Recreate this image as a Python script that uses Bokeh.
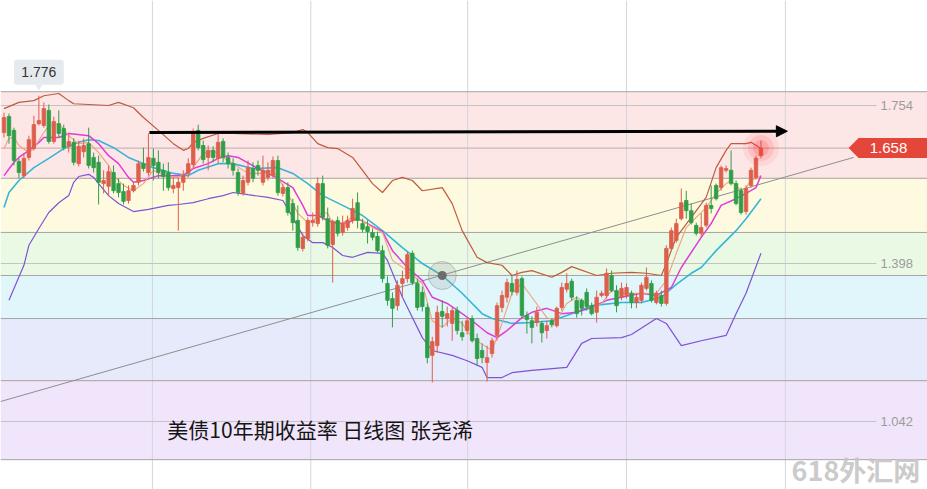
import numpy as np
from bokeh.plotting import figure
from bokeh.models import Range1d, BoxAnnotation, Span, Arrow, NormalHead, ColumnDataSource
from bokeh.core.properties import value
from bokeh.embed import file_html
from bokeh.resources import INLINE

# ---------------- data (US 10Y yield, daily candles) ----------------
opens = [1.693, 1.729, 1.698, 1.628, 1.596, 1.637, 1.657, 1.713, 1.709, 1.743,
         1.673, 1.713, 1.702, 1.662, 1.671, 1.623, 1.650, 1.668, 1.637, 1.626,
         1.578, 1.572, 1.603, 1.578, 1.560, 1.540, 1.562, 1.581, 1.623, 1.603,
         1.635, 1.626, 1.608, 1.603, 1.567, 1.569, 1.581, 1.601, 1.621, 1.698,
         1.664, 1.637, 1.653, 1.635, 1.673, 1.637, 1.623, 1.603, 1.556, 1.581,
         1.612, 1.619, 1.581, 1.592, 1.596, 1.630, 1.556, 1.569, 1.533, 1.495,
         1.432, 1.454, 1.490, 1.488, 1.578, 1.499, 1.441, 1.495, 1.468, 1.479,
         1.495, 1.535, 1.488, 1.481, 1.468, 1.459, 1.427, 1.353, 1.319, 1.303,
         1.353, 1.364, 1.421, 1.353, 1.333, 1.299, 1.191, 1.213, 1.290, 1.274,
         1.263, 1.292, 1.242, 1.247, 1.274, 1.229, 1.202, 1.175, 1.195, 1.236,
         1.299, 1.322, 1.353, 1.333, 1.364, 1.281, 1.269, 1.265, 1.263, 1.247,
         1.269, 1.258, 1.299, 1.340, 1.358, 1.315, 1.315, 1.333, 1.303, 1.288,
         1.326, 1.326, 1.371, 1.337, 1.322, 1.326, 1.331, 1.310, 1.315, 1.342,
         1.353, 1.310, 1.326, 1.308, 1.432, 1.450, 1.499, 1.540, 1.517, 1.484,
         1.466, 1.484, 1.529, 1.574, 1.569, 1.608, 1.608, 1.578, 1.562, 1.515,
         1.574, 1.592, 1.641]
highs = [1.738, 1.736, 1.704, 1.635, 1.646, 1.686, 1.731, 1.776, 1.761, 1.756,
         1.729, 1.743, 1.711, 1.689, 1.680, 1.675, 1.680, 1.704, 1.648, 1.641,
         1.608, 1.619, 1.619, 1.590, 1.578, 1.574, 1.581, 1.630, 1.659, 1.691,
         1.657, 1.653, 1.623, 1.626, 1.592, 1.592, 1.608, 1.635, 1.702, 1.711,
         1.675, 1.664, 1.662, 1.693, 1.680, 1.648, 1.635, 1.612, 1.596, 1.630,
         1.626, 1.630, 1.641, 1.626, 1.639, 1.641, 1.578, 1.581, 1.544, 1.529,
         1.466, 1.502, 1.513, 1.592, 1.596, 1.524, 1.497, 1.504, 1.506, 1.506,
         1.544, 1.558, 1.499, 1.495, 1.477, 1.470, 1.439, 1.369, 1.333, 1.360,
         1.382, 1.425, 1.427, 1.364, 1.346, 1.308, 1.233, 1.303, 1.315, 1.301,
         1.299, 1.301, 1.269, 1.276, 1.281, 1.240, 1.218, 1.213, 1.231, 1.310,
         1.337, 1.364, 1.371, 1.382, 1.369, 1.290, 1.279, 1.301, 1.269, 1.269,
         1.274, 1.301, 1.355, 1.376, 1.364, 1.324, 1.319, 1.342, 1.310, 1.337,
         1.337, 1.387, 1.382, 1.349, 1.355, 1.353, 1.337, 1.331, 1.355, 1.389,
         1.360, 1.337, 1.337, 1.439, 1.479, 1.499, 1.567, 1.562, 1.533, 1.490,
         1.511, 1.535, 1.574, 1.578, 1.619, 1.619, 1.653, 1.585, 1.569, 1.574,
         1.614, 1.641, 1.675]
lows = [1.682, 1.668, 1.619, 1.590, 1.590, 1.630, 1.653, 1.709, 1.704, 1.668,
        1.668, 1.682, 1.653, 1.648, 1.619, 1.617, 1.637, 1.612, 1.603, 1.531,
        1.556, 1.551, 1.556, 1.547, 1.531, 1.533, 1.558, 1.574, 1.605, 1.596,
        1.585, 1.590, 1.562, 1.562, 1.556, 1.472, 1.562, 1.592, 1.614, 1.653,
        1.623, 1.608, 1.626, 1.623, 1.626, 1.612, 1.596, 1.551, 1.551, 1.574,
        1.581, 1.596, 1.574, 1.585, 1.590, 1.551, 1.549, 1.506, 1.472, 1.427,
        1.425, 1.448, 1.481, 1.481, 1.495, 1.432, 1.355, 1.459, 1.461, 1.472,
        1.488, 1.477, 1.468, 1.443, 1.450, 1.423, 1.355, 1.303, 1.254, 1.292,
        1.322, 1.355, 1.349, 1.292, 1.290, 1.173, 1.130, 1.197, 1.254, 1.256,
        1.224, 1.238, 1.224, 1.238, 1.220, 1.168, 1.173, 1.132, 1.186, 1.224,
        1.288, 1.310, 1.326, 1.326, 1.274, 1.240, 1.218, 1.256, 1.220, 1.229,
        1.254, 1.254, 1.292, 1.333, 1.315, 1.276, 1.281, 1.292, 1.281, 1.265,
        1.322, 1.319, 1.333, 1.288, 1.315, 1.319, 1.297, 1.297, 1.308, 1.337,
        1.310, 1.306, 1.301, 1.303, 1.427, 1.445, 1.495, 1.499, 1.486, 1.461,
        1.457, 1.479, 1.511, 1.540, 1.562, 1.603, 1.574, 1.529, 1.508, 1.508,
        1.569, 1.587, 1.635]
closes = [1.727, 1.686, 1.630, 1.603, 1.635, 1.677, 1.711, 1.720, 1.747, 1.673,
          1.718, 1.691, 1.659, 1.673, 1.626, 1.662, 1.664, 1.619, 1.614, 1.581,
          1.585, 1.605, 1.562, 1.558, 1.538, 1.562, 1.574, 1.623, 1.612, 1.637,
          1.619, 1.603, 1.594, 1.569, 1.574, 1.581, 1.596, 1.623, 1.693, 1.659,
          1.632, 1.653, 1.637, 1.671, 1.637, 1.623, 1.608, 1.558, 1.585, 1.614,
          1.590, 1.608, 1.608, 1.608, 1.630, 1.558, 1.569, 1.513, 1.490, 1.434,
          1.457, 1.495, 1.495, 1.578, 1.502, 1.439, 1.493, 1.466, 1.488, 1.495,
          1.522, 1.495, 1.475, 1.470, 1.457, 1.427, 1.364, 1.315, 1.297, 1.349,
          1.364, 1.418, 1.355, 1.299, 1.301, 1.186, 1.222, 1.288, 1.279, 1.285,
          1.292, 1.247, 1.233, 1.269, 1.224, 1.184, 1.186, 1.186, 1.224, 1.303,
          1.326, 1.355, 1.335, 1.362, 1.281, 1.272, 1.254, 1.288, 1.242, 1.258,
          1.260, 1.297, 1.344, 1.353, 1.322, 1.285, 1.297, 1.301, 1.285, 1.322,
          1.331, 1.376, 1.337, 1.303, 1.342, 1.344, 1.310, 1.322, 1.349, 1.367,
          1.315, 1.331, 1.308, 1.432, 1.472, 1.488, 1.535, 1.517, 1.490, 1.466,
          1.479, 1.529, 1.522, 1.544, 1.614, 1.612, 1.578, 1.533, 1.513, 1.567,
          1.608, 1.635, 1.658]

# Bollinger upper band (sampled at candle index)
boll_up_idx = [0, 3, 6, 8, 11, 13, 14, 21, 23, 26, 28, 31, 34, 36, 37, 38, 40, 43, 46, 53,
               58, 60, 61, 63, 65, 67, 70, 72, 74, 76, 78, 80, 82, 84, 88, 90, 92, 95, 97, 100,
               102, 104, 106, 110, 112, 114, 119, 122, 126, 129, 132, 133, 135, 138, 141, 143,
               145, 146, 149, 150, 152]
boll_up_val = [1.747, 1.761, 1.765, 1.776, 1.781, 1.765, 1.758, 1.754, 1.761, 1.749,
               1.727, 1.698, 1.668, 1.653, 1.657, 1.671, 1.680, 1.691, 1.691, 1.689,
               1.693, 1.700, 1.693, 1.668, 1.659, 1.657, 1.637, 1.608, 1.578, 1.558,
               1.585, 1.592, 1.585, 1.562, 1.569, 1.533, 1.472, 1.412, 1.400, 1.394,
               1.371, 1.378, 1.382, 1.367, 1.378, 1.391, 1.371, 1.376, 1.378, 1.376,
               1.371, 1.398, 1.457, 1.502, 1.547, 1.614, 1.653, 1.668, 1.668, 1.671, 1.657]
# Bollinger lower band
boll_dn_idx = [1, 4, 5, 7, 9, 11, 13, 14, 15, 17, 18, 19, 21, 23, 26, 29, 33, 35, 38, 41,
               44, 46, 49, 53, 56, 58, 60, 62, 64, 66, 68, 70, 73, 76, 77, 80, 84, 86, 90, 93,
               96, 97, 100, 102, 106, 113, 116, 118, 124, 126, 131, 133, 136, 140, 145, 147,
               149, 152]
boll_dn_val = [1.315, 1.394, 1.439, 1.477, 1.513, 1.535, 1.551, 1.581, 1.594, 1.599,
               1.592, 1.578, 1.551, 1.533, 1.515, 1.520, 1.529, 1.531, 1.535, 1.544,
               1.551, 1.558, 1.553, 1.547, 1.540, 1.502, 1.461, 1.445, 1.445, 1.434,
               1.416, 1.412, 1.423, 1.421, 1.405, 1.322, 1.231, 1.202, 1.191, 1.179,
               1.164, 1.141, 1.141, 1.152, 1.157, 1.164, 1.218, 1.229, 1.231, 1.238,
               1.274, 1.263, 1.213, 1.224, 1.236, 1.285, 1.331, 1.421]
# 20-day moving average (Bollinger middle)
ma20_idx = [0, 1, 3, 6, 9, 12, 15, 17, 19, 22, 25, 30, 34, 37, 39, 43, 46, 50, 55, 58,
            61, 64, 68, 72, 76, 80, 84, 88, 92, 96, 98, 102, 106, 110, 114, 118, 124, 128,
            132, 135, 138, 140, 143, 147, 149, 152]
ma20_val = [1.524, 1.558, 1.585, 1.614, 1.635, 1.657, 1.671, 1.677, 1.675, 1.659,
            1.637, 1.614, 1.601, 1.596, 1.608, 1.623, 1.623, 1.612, 1.614, 1.601,
            1.578, 1.551, 1.529, 1.506, 1.472, 1.434, 1.398, 1.371, 1.331, 1.285,
            1.274, 1.263, 1.265, 1.269, 1.285, 1.303, 1.310, 1.310, 1.322, 1.351,
            1.376, 1.389, 1.427, 1.472, 1.499, 1.544]
# 10-day moving average
ma10_idx = [0, 2, 3, 5, 7, 8, 11, 13, 17, 19, 21, 23, 25, 26, 28, 31, 36, 38, 41, 43,
            45, 47, 51, 54, 58, 60, 61, 63, 65, 67, 69, 71, 73, 76, 78, 81, 84, 86, 89, 92,
            94, 97, 99, 101, 104, 106, 109, 112, 115, 118, 121, 124, 128, 131, 134, 136,
            140, 142, 144, 147, 149, 151, 152]
ma10_val = [1.596, 1.626, 1.637, 1.653, 1.671, 1.682, 1.682, 1.691, 1.686, 1.668,
            1.641, 1.623, 1.592, 1.581, 1.585, 1.596, 1.596, 1.612, 1.623, 1.635,
            1.641, 1.637, 1.612, 1.596, 1.569, 1.529, 1.506, 1.506, 1.495, 1.488,
            1.490, 1.499, 1.488, 1.470, 1.427, 1.389, 1.360, 1.322, 1.308, 1.285,
            1.269, 1.242, 1.231, 1.247, 1.276, 1.288, 1.297, 1.285, 1.288, 1.299,
            1.315, 1.322, 1.331, 1.326, 1.344, 1.389, 1.457, 1.488, 1.529, 1.544,
            1.556, 1.569, 1.596]
# 5-day moving average
ma5_idx = [0, 1, 2, 3, 5, 6, 8, 9, 11, 13, 15, 17, 19, 21, 22, 24, 26, 28, 30, 33,
           35, 38, 40, 42, 44, 46, 49, 52, 54, 57, 59, 61, 62, 64, 65, 66, 68, 70, 72, 74,
           76, 78, 81, 84, 86, 88, 90, 92, 94, 97, 98, 100, 102, 104, 106, 109, 111, 113,
           115, 118, 120, 122, 124, 128, 131, 133, 135, 137, 139, 141, 143, 145, 146, 148,
           149, 150, 152]
ma5_val = [1.657, 1.680, 1.682, 1.664, 1.648, 1.657, 1.693, 1.709, 1.713, 1.686,
           1.668, 1.671, 1.648, 1.619, 1.596, 1.574, 1.562, 1.578, 1.608, 1.592,
           1.592, 1.614, 1.646, 1.653, 1.637, 1.623, 1.601, 1.601, 1.608, 1.556,
           1.511, 1.490, 1.495, 1.513, 1.511, 1.488, 1.490, 1.502, 1.495, 1.479,
           1.468, 1.405, 1.382, 1.353, 1.269, 1.254, 1.276, 1.263, 1.231, 1.209,
           1.202, 1.263, 1.331, 1.353, 1.322, 1.276, 1.269, 1.308, 1.322, 1.299,
           1.308, 1.337, 1.331, 1.331, 1.331, 1.360, 1.421, 1.479, 1.502, 1.524,
           1.556, 1.578, 1.585, 1.562, 1.569, 1.585, 1.596]

# Fibonacci retracement levels and zone colours
fib_levels = [1.785, 1.590, 1.468, 1.371, 1.274, 1.134, 0.956]
fib_colors = ["#fde6e6", "#fefae0", "#eaf9e4", "#e1f6fb", "#e6eafb", "#f1e5fb"]
tick_vals = [1.754, 1.398, 1.042]
tick_labels = ["1.754", "1.398", "1.042"]
last_price = 1.658
date_lines = [29.8, 61.6, 93.1, 125.0, 156.9]
trend_x = [-0.7, 170.6]
trend_y = [1.087, 1.637]
resist_x = [29.2, 157.3]
resist_y = [1.693, 1.696]
title = "美债10年期收益率 日线图 张尧浠"
brand = "618外汇网"

# ---------------- figure ----------------
PX = 0.0022532   # yield per screen pixel
X0 = -0.703
p = figure(width=927, height=489, x_range=Range1d(X0, 185.44),
           y_range=Range1d(0.8888, 1.9906), output_backend="svg",
           toolbar_location=None, min_border=0, x_axis_location=None,
           y_axis_location=None, outline_line_color=None,
           background_fill_color="white", border_fill_color="white")
p.grid.visible = False

for hi, lo, c in zip(fib_levels[:-1], fib_levels[1:], fib_colors):
    p.add_layout(BoxAnnotation(top=hi, bottom=lo, fill_color=c, fill_alpha=1.0,
                               line_alpha=0, level="underlay"))
for k in date_lines:
    p.add_layout(Span(location=k, dimension="height", line_color="#d4d6dc",
                      line_width=1, level="underlay"))
for v in fib_levels:
    p.add_layout(Span(location=v, dimension="width", line_color="#a4a4a4",
                      line_width=1, level="underlay"))
p.add_layout(Span(location=last_price, dimension="width", line_color="#c4a8a8",
                  line_width=1, level="underlay"))
p.segment(x0=[X0] * 3, x1=[175.2] * 3, y0=tick_vals, y1=tick_vals,
          line_color="#c4c4c4", line_width=1)

# trend line
p.line(trend_x, trend_y, line_color="#8e8e8e", line_width=1)

# indicator lines
p.line(boll_up_idx, boll_up_val, line_color="#c05a3e", line_width=1.2)
p.line(boll_dn_idx, boll_dn_val, line_color="#7f52d6", line_width=1.2)
p.line(ma20_idx, ma20_val, line_color="#35b6d8", line_width=1.6)
p.line(ma10_idx, ma10_val, line_color="#e03cd6", line_width=1.5)
p.line(ma5_idx, ma5_val, line_color="#f0a07e", line_width=1.1)

# candles
o = np.array(opens); c = np.array(closes)
idx = np.arange(len(opens))
colors = np.where(c >= o, "#dd5f4b", "#2f9e46")
src = ColumnDataSource(dict(x=idx, h=highs, l=lows, top=np.maximum(o, c),
                            bottom=np.minimum(o, c), color=colors))
p.segment(x0="x", x1="x", y0="l", y1="h", line_color="color", line_width=1, source=src)
p.vbar(x="x", width=0.7, top="top", bottom="bottom", fill_color="color",
       line_color="color", line_width=0.8, source=src)

# resistance arrow
p.add_layout(Arrow(end=NormalHead(size=11, fill_color="black", line_color="black"),
                   x_start=resist_x[0], y_start=resist_y[0],
                   x_end=resist_x[1], y_end=resist_y[1],
                   line_color="black", line_width=3))

# cross marker on MA20
mk = ma20_idx.index(88)
p.scatter([ma20_idx[mk]], [ma20_val[mk]], size=28, fill_color="#9a9a9a", fill_alpha=0.22,
          line_color="#8a8a8a", line_alpha=0.45)
p.scatter([ma20_idx[mk]], [ma20_val[mk]], size=9, fill_color="#6c6c6c", line_color=None)

# glow on last candle
last_i = len(closes) - 1
for s, a in [(36, 0.08), (26, 0.12), (16, 0.18)]:
    p.scatter([last_i], [last_price], size=s, fill_color="#ff2a2a", fill_alpha=a,
              line_color=None)

# max label
hi_i = int(np.argmax(highs)); hi_v = highs[hi_i]
p.quad(left=[hi_i - 5.0], right=[hi_i + 5.0], bottom=[hi_v + 11 * PX], top=[hi_v + 36 * PX],
       fill_color="#e6eaee", line_color=None, border_radius=3)
p.scatter([hi_i], [hi_v + 9 * PX], marker="inverted_triangle", size=7,
          fill_color="#e6eaee", line_color=None)
p.text([hi_i], [hi_v + 23.5 * PX], text=["%.3f" % hi_v], text_align="center",
       text_baseline="middle", text_font=value("Liberation Sans"),
       text_font_size="14px", text_color="#333333")

# price axis labels
p.text([176.0] * 3, tick_vals, text=tick_labels, text_align="left",
       text_baseline="middle", text_font=value("Liberation Sans"),
       text_font_size="13px", text_color="#9c9c9c")

# last price tag
tip = 169.6
p.patch([tip, tip + 2.0, 186, 186, tip + 2.0],
        [last_price, last_price + 10 * PX, last_price + 10 * PX,
         last_price - 10 * PX, last_price - 10 * PX],
        fill_color="#e4463a", line_color=None)
p.text([177.6], [last_price], text=["%.3f" % last_price], text_align="center",
       text_baseline="middle", text_font=value("Liberation Sans"),
       text_font_size="15px", text_color="white")

# captions
p.text([32.8], [1.026], text=[title], text_align="left", text_baseline="middle",
       text_font=value("Noto Sans CJK SC"), text_font_size="21px", text_color="#151515")
p.text([184.0], [0.934], text=[brand], text_align="right", text_baseline="middle",
       text_font=value("Noto Sans CJK SC"), text_font_size="27px", text_font_style="bold",
       text_color="#c4c4c4", text_alpha=0.9)

open("out.html", "w").write(file_html(p, INLINE))
